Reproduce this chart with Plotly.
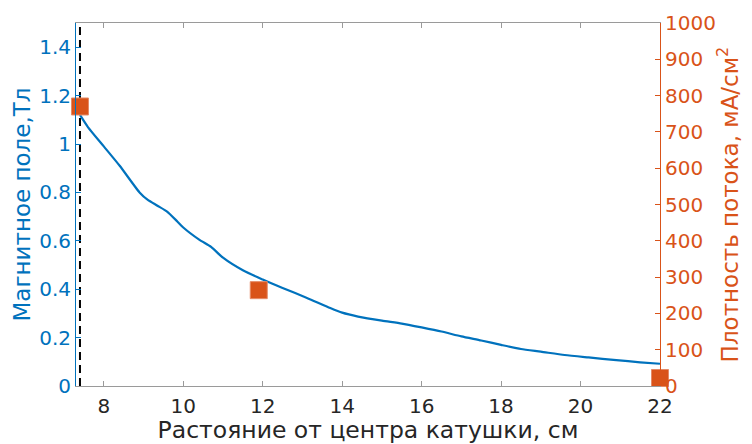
import plotly.graph_objects as go

# Magnetic field curve (left axis, Tesla)
field_x = [7.4, 7.6, 8.0, 8.4, 8.9, 9.1, 9.35, 9.6, 9.85, 10.0, 10.4, 10.7, 11.0, 11.5,
           12.0, 12.5, 13.1, 13.7, 14.0, 14.4, 15.0, 15.5, 16.0, 16.5, 17.0, 17.5,
           18.0, 18.5, 19.0, 19.6, 20.2, 20.9, 21.5, 22.0]
field_y = [1.12, 1.07, 0.99, 0.91, 0.80, 0.77, 0.745, 0.72, 0.68, 0.655, 0.605, 0.575,
           0.53, 0.478, 0.44, 0.405, 0.365, 0.322, 0.303, 0.287, 0.27, 0.258, 0.242,
           0.225, 0.205, 0.188, 0.17, 0.153, 0.142, 0.128, 0.118, 0.107, 0.098, 0.092]

# Flux density points (right axis, mA/cm^2)
flux_x = [7.4, 11.9, 22.0]
flux_y = [770, 264, 22]

# Dashed reference line position
ref_x = [7.4, 7.4]
ref_y = [0, 1.5]

x_ticks = [8, 10, 12, 14, 16, 18, 20, 22]
y1_ticks = [0, 0.2, 0.4, 0.6, 0.8, 1, 1.2, 1.4]
y1_labels = ["0", "0.2", "0.4", "0.6", "0.8", "1", "1.2", "1.4"]
y2_ticks = [0, 100, 200, 300, 400, 500, 600, 700, 800, 900, 1000]

BLUE = "#0072BD"
ORANGE = "#D95319"
GRAY = "#262626"
AXGRAY = "#9a9a9a"
FONT = "DejaVu Sans"

fig = go.Figure()
fig.add_trace(go.Scatter(x=ref_x, y=ref_y, mode="lines",
                         line=dict(color="black", width=2, dash="8px,5px"),
                         showlegend=False, hoverinfo="skip"))
fig.add_trace(go.Scatter(x=field_x, y=field_y, mode="lines",
                         line=dict(color=BLUE, width=2.2, shape="spline", smoothing=0.6),
                         showlegend=False))
fig.add_trace(go.Scatter(x=flux_x, y=flux_y, mode="markers", yaxis="y2",
                         marker=dict(symbol="square", size=17, color=ORANGE,
                                     line=dict(color="#e58a66", width=1)),
                         cliponaxis=False, showlegend=False))

fig.update_layout(
    width=752, height=444,
    margin=dict(l=76, r=92, t=23, b=58),
    paper_bgcolor="white", plot_bgcolor="white",
    font=dict(family=FONT, size=20, color=GRAY),
    xaxis=dict(range=[7.3, 22], tickvals=x_ticks, ticks="inside", ticklen=5,
               tickcolor=AXGRAY, showline=True, linecolor=AXGRAY, linewidth=1,
               mirror="ticks", showgrid=False, zeroline=False, automargin=False,
               tickfont=dict(size=20, color=GRAY), ticklabelstandoff=2,
               title=dict(text="Растояние от центра катушки, см",
                          font=dict(size=23.5, color=GRAY), standoff=2)),
    yaxis=dict(range=[0, 1.5], tickvals=y1_ticks, ticktext=y1_labels,
               ticks="inside", ticklen=5, tickcolor=BLUE, showline=True,
               linecolor=BLUE, linewidth=1, showgrid=False, zeroline=False,
               automargin=False, tickfont=dict(size=20, color=BLUE),
               title=dict(text="Магнитное поле,Тл", font=dict(size=23, color=BLUE),
                          standoff=2)),
    yaxis2=dict(range=[0, 1000], tickvals=y2_ticks, overlaying="y", side="right",
                ticks="inside", ticklen=5, tickcolor=ORANGE, showline=True,
                linecolor=ORANGE, linewidth=1, showgrid=False, zeroline=False,
                automargin=False, tickfont=dict(size=20, color=ORANGE),
                title=dict(text="Плотность потока, мА/см<sup>2</sup>",
                           font=dict(size=23, color=ORANGE), standoff=6)),
)

fig.write_html("out.html")
